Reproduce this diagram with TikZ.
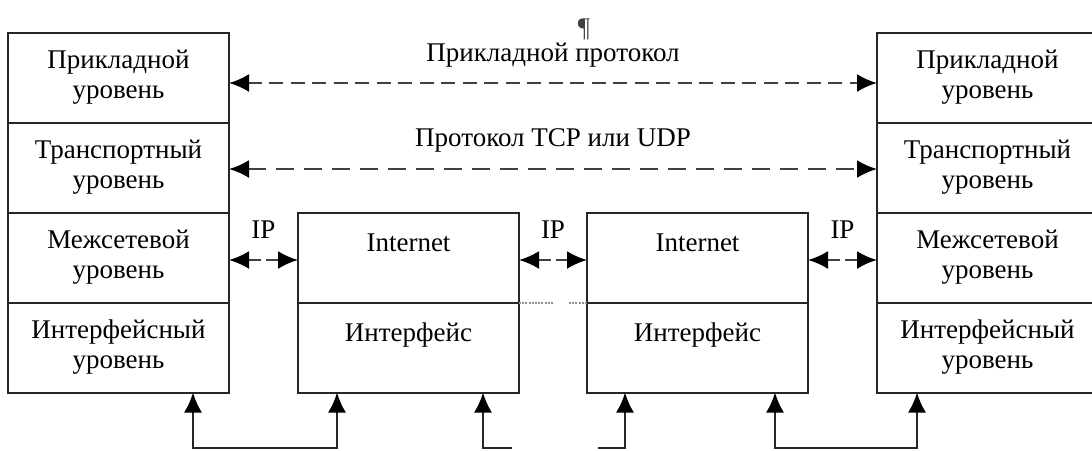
\documentclass[tikz,border=0pt]{standalone}
\usepackage{fontspec}
\setmainfont{Liberation Serif}
\usetikzlibrary{arrows.meta}

\tikzset{
  cell/.style={draw=black!85, line width=1pt, rectangle, minimum width=110.5pt,
    minimum height=45pt, inner sep=0pt, outer sep=0pt, align=center,
    font=\fontsize{13.5}{15}\selectfont},
  proto/.style={line width=1.2pt, black!75, <->},
  lbl/.style={font=\fontsize{13.5}{15}\selectfont, anchor=base, inner sep=0pt, black},
  wire/.style={line width=1pt, black!85},
  dotline/.style={line width=1pt, black!45, dash pattern=on 1pt off 0.6pt}
}

\begin{document}
\begin{tikzpicture}[x=0.5pt, y=-0.5pt, >={Latex[length=10pt,width=9pt,color=black]}]
                \clip (0,0) rectangle (1092,450);

                % left host
                \node[cell] (la) at (118.5,77.5)  {Прикладной\\уровень};
                \node[cell] (lb) at (118.5,167.5) {Транспортный\\уровень};
                \node[cell] (lc) at (118.5,257.5) {Межсетевой\\уровень};
                \node[cell] (ld) at (118.5,347.5) {Интерфейсный\\уровень};

                % right host
                \node[cell] (ra) at (987.5,77.5)  {Прикладной\\уровень};
                \node[cell] (rb) at (987.5,167.5) {Транспортный\\уровень};
                \node[cell] (rc) at (987.5,257.5) {Межсетевой\\уровень};
                \node[cell] (rd) at (987.5,347.5) {Интерфейсный\\уровень};

                % routers
                \node[cell] (ia) at (408.5,257.5) {Internet\\\mbox{}};
                \node[cell] (ib) at (408.5,347.5) {Интерфейс\\\mbox{}};
                \node[cell] (ja) at (697.5,257.5) {Internet\\\mbox{}};
                \node[cell] (jb) at (697.5,347.5) {Интерфейс\\\mbox{}};

                \node[lbl, black!75] (pil) at (584,36) {¶};

                % protocols
                \draw[proto, dash pattern=on 7pt off 3.75pt]
                    ([yshift=-2.75pt]la.east) -- node[lbl, yshift=11pt] {Прикладной протокол}
                    ([yshift=-2.75pt]ra.west);
                \draw[proto, dash pattern=on 9pt off 5pt]
                    ([yshift=-0.75pt]lb.east) -- node[lbl, yshift=11.5pt] {Протокол TCP или UDP}
                    ([yshift=-0.75pt]rb.west);

                \draw[proto, dash pattern=on 6.5pt off 2.5pt]
                    ([yshift=-1.25pt]lc.east) -- node[lbl, yshift=11pt] {IP} ([yshift=-1.25pt]ia.west);
                \draw[proto, dash pattern=on 6.5pt off 2.5pt]
                    ([yshift=-1.25pt]ia.east) -- node[lbl, yshift=11pt] {IP} ([yshift=-1.25pt]ja.west);
                \draw[proto, dash pattern=on 6.5pt off 2.5pt]
                    ([yshift=-1.25pt]ja.east) -- node[lbl, yshift=11pt] {IP} ([yshift=-1.25pt]rc.west);

                \draw[dotline] (ib.north east) -- ++(34,0);
                \draw[dotline] (jb.north west) -- ++(-19,0);

                % links
                \coordinate (w1) at (193,448);
                \coordinate (w2) at (337,448);
                \coordinate (w3) at (483,448);
                \coordinate (w3e) at (512,448);
                \coordinate (w4s) at (598,448);
                \coordinate (w4) at (625,448);
                \coordinate (w5) at (775,448);
                \coordinate (w6) at (917,448);

                \draw[wire, <->] (ld.south -| w1) -- (w1) -- (w2) -- (ib.south -| w2);
                \draw[wire, <-] (ib.south -| w3) -- (w3) -- (w3e);
                \draw[wire, ->] (w4s) -- (w4) -- (jb.south -| w4);
                \draw[wire, <->] (jb.south -| w5) -- (w5) -- (w6) -- (rd.south -| w6);
            \end{tikzpicture}
\end{document}
